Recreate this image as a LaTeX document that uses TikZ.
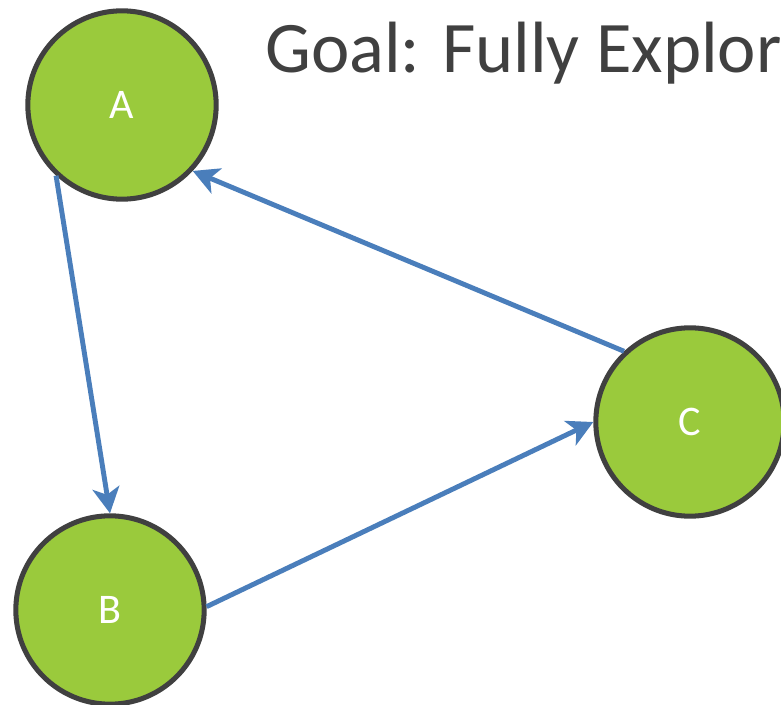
\documentclass[tikz,border=0pt]{standalone}
\usepackage{fontspec}
\setmainfont{Carlito}
\usetikzlibrary{arrows.meta}
\definecolor{nodegreen}{HTML}{9ACA3C}
\definecolor{rim}{HTML}{404040}
\definecolor{edgeblue}{HTML}{4A7EBB}
\tikzset{
  vertex/.style={circle, draw=rim, fill=nodegreen, line width=4.3pt,
    minimum size=5.65cm, inner sep=0pt, text=white,
    font=\fontsize{36}{40}\selectfont},
  edge/.style={draw=edgeblue, line width=4.2pt,
    -{Stealth[length=22pt, width=23pt, inset=6pt]}},
}
\begin{document}
\begin{tikzpicture}[x=0.03cm, y=-0.03cm]
  \useasboundingbox (0,0) rectangle (781,705);
  \node[vertex] (A) at (122,105) {A};
  \node[vertex] (B) at (110,610) {B};
  \node[vertex] (C) at (690,422) {C};
  \node[anchor=base west, inner sep=0pt, text=rim,
    font=\fontsize{62}{68}\selectfont] (title) at (265,73) {Goal: Fully Explor};
  \draw[edge] (A.227) -- (B.north);
  \draw[edge] (B.2) -- (C.west);
  \draw[edge] (C.133) -- (A.317);
\end{tikzpicture}
\end{document}
